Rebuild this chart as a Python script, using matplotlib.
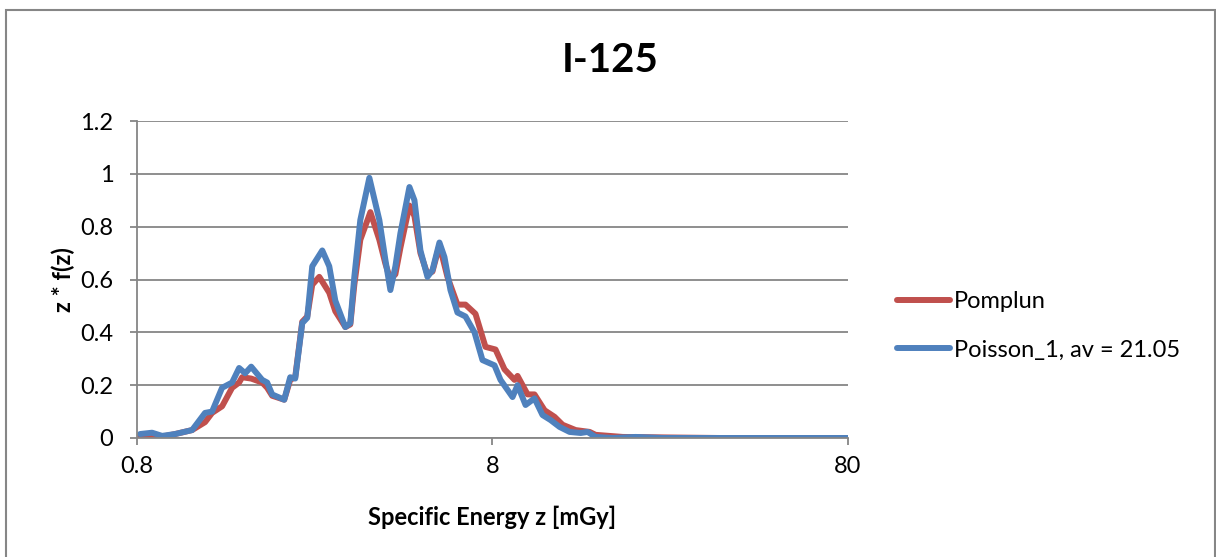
import matplotlib.pyplot as plt
from matplotlib.patches import Rectangle
from matplotlib.ticker import FixedLocator, FixedFormatter, NullLocator

plt.rcParams['font.family'] = ['Lato', 'DejaVu Sans']

# Pomplun (red)
z_pomplun = [0.816, 0.941, 1.024, 1.143, 1.243, 1.301, 1.388, 1.481, 1.55, 1.581,
             1.676, 1.80, 1.859, 1.92, 2.076, 2.158, 2.229, 2.333, 2.41, 2.489,
             2.605, 2.779, 2.89, 3.084, 3.185, 3.269, 3.398, 3.627, 3.844, 3.997,
             4.129, 4.265, 4.406, 4.671, 4.825, 5.016, 5.249, 5.422, 5.673, 5.975,
             6.375, 6.715, 7.165, 7.644, 8.158, 8.647, 9.227, 9.409, 10.04, 10.5,
             11.21, 11.96, 12.6, 13.71, 15.01, 15.6, 18.59, 25.0, 35.0, 80.0]
f_pomplun = [0.008, 0.005, 0.015, 0.03, 0.06, 0.095, 0.12, 0.19, 0.21, 0.23,
             0.225, 0.21, 0.19, 0.16, 0.145, 0.22, 0.23, 0.44, 0.46, 0.58,
             0.61, 0.55, 0.48, 0.42, 0.43, 0.58, 0.75, 0.855, 0.75, 0.66,
             0.60, 0.62, 0.72, 0.88, 0.84, 0.70, 0.62, 0.63, 0.73, 0.61,
             0.505, 0.505, 0.47, 0.345, 0.335, 0.26, 0.22, 0.235, 0.165, 0.165,
             0.105, 0.08, 0.05, 0.03, 0.023, 0.012, 0.004, 0.002, 0.0, 0.0]

# Poisson_1 (blue)
z_poisson = [0.816, 0.882, 0.941, 1.024, 1.143, 1.243, 1.301, 1.388, 1.481, 1.55,
             1.612, 1.676, 1.80, 1.859, 1.92, 2.076, 2.158, 2.229, 2.333, 2.41,
             2.489, 2.656, 2.779, 2.89, 3.084, 3.185, 3.269, 3.398, 3.603, 3.844,
             3.997, 4.129, 4.265, 4.406, 4.671, 4.825, 5.016, 5.249, 5.422, 5.673,
             5.86, 6.093, 6.375, 6.715, 7.119, 7.497, 8.104, 8.426, 9.108, 9.409,
             9.91, 10.5, 11.06, 11.65, 12.35, 13.18, 14.16, 14.81, 15.6, 17.42,
             20.22, 24.1, 80.0]
f_poisson = [0.015, 0.02, 0.008, 0.015, 0.03, 0.095, 0.10, 0.19, 0.21, 0.265,
             0.245, 0.27, 0.22, 0.21, 0.165, 0.145, 0.23, 0.225, 0.435, 0.455,
             0.65, 0.71, 0.65, 0.52, 0.42, 0.435, 0.61, 0.825, 0.985, 0.825,
             0.675, 0.56, 0.65, 0.775, 0.95, 0.90, 0.71, 0.61, 0.635, 0.74,
             0.685, 0.56, 0.475, 0.46, 0.40, 0.295, 0.275, 0.22, 0.155, 0.20,
             0.125, 0.15, 0.087, 0.068, 0.042, 0.023, 0.019, 0.023, 0.004, 0.0,
             0.004, 0.0, 0.0]

x_ticks = [0.8, 8, 80]
x_tick_labels = ['0.8', '8', '80']
y_ticks = [0, 0.2, 0.4, 0.6, 0.8, 1.0, 1.2]
y_tick_labels = ['0', '0.2', '0.4', '0.6', '0.8', '1', '1.2']

grey = '#868686'

fig = plt.figure(figsize=(12.16, 5.57), dpi=100)
fig.patches.append(Rectangle((6 / 1216, -0.05), 1209 / 1216, 1.05 - 10 / 557,
                             transform=fig.transFigure, fill=False,
                             edgecolor=grey, linewidth=1.5))

ax = fig.add_axes([137 / 1216, 119 / 557, 711 / 1216, 317 / 557])
ax.plot(z_pomplun, f_pomplun, color='#C0504D', linewidth=4.3,
        solid_capstyle='round', solid_joinstyle='round', label='Pomplun')
ax.plot(z_poisson, f_poisson, color='#4F81BD', linewidth=4.3,
        solid_capstyle='round', solid_joinstyle='round', label='Poisson_1, av = 21.05')

ax.set_xscale('log')
ax.set_xlim(0.8, 80)
ax.set_ylim(0, 1.2)
ax.xaxis.set_major_locator(FixedLocator(x_ticks))
ax.xaxis.set_major_formatter(FixedFormatter(x_tick_labels))
ax.xaxis.set_minor_locator(NullLocator())
ax.set_yticks(y_ticks)
ax.set_yticklabels(y_tick_labels)

ax.grid(axis='y', color=grey, linewidth=1.3)
ax.set_axisbelow(True)
for s in ['top', 'right']:
    ax.spines[s].set_visible(False)
for s in ['left', 'bottom']:
    ax.spines[s].set_color(grey)
    ax.spines[s].set_linewidth(1.3)
ax.tick_params(axis='both', colors=grey, labelcolor='black', labelsize=17,
               length=5, width=1.3, direction='out')
ax.tick_params(axis='y', pad=12)
ax.tick_params(axis='x', pad=8)

fig.text(610 / 1216, 1 - 60 / 557, 'I-125', fontsize=29, fontweight='bold',
         ha='center', va='center')
fig.text(492 / 1216, 1 - 517 / 557, 'Specific Energy z [mGy]', fontsize=17,
         fontweight='bold', ha='center', va='center')
fig.text(63 / 1216, 1 - 280 / 557, 'z * f(z)', fontsize=17, fontweight='bold',
         rotation=90, ha='center', va='center')

fig.legend(loc='center left', bbox_to_anchor=(897 / 1216, 1 - 326 / 557),
           frameon=False, fontsize=17, handlelength=2.25, handletextpad=0.17,
           labelspacing=1.15, borderpad=0, borderaxespad=0)

plt.savefig('out.png', dpi=100)
